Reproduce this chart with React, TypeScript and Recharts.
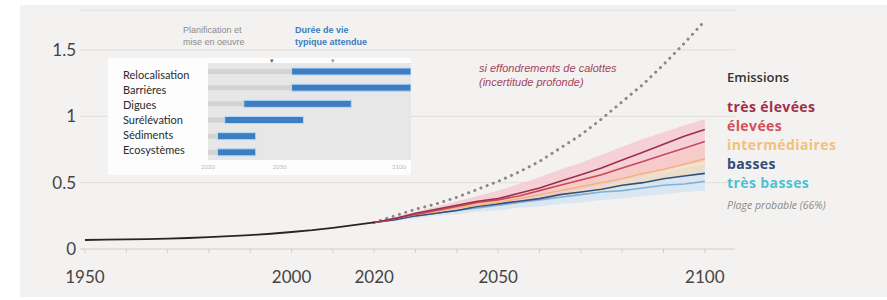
import React from 'react';
import {
  ComposedChart, BarChart, Bar, Line, Area, XAxis, YAxis, CartesianGrid,
} from 'recharts';

// observed sea level (m), 1950-2020
const histYears = [1950, 1955, 1960, 1965, 1970, 1975, 1980, 1985, 1990, 1995, 2000, 2005, 2010, 2015, 2020];
const histLevel = [0.068, 0.07, 0.072, 0.074, 0.078, 0.083, 0.09, 0.097, 0.105, 0.115, 0.128, 0.142, 0.16, 0.18, 0.2];

// projections 2020-2100
const projYears = [2020, 2025, 2030, 2035, 2040, 2045, 2050, 2055, 2060, 2065, 2070, 2075, 2080, 2085, 2090, 2095, 2100];
const collapse = [0.2, 0.25, 0.3, 0.34, 0.39, 0.45, 0.51, 0.58, 0.66, 0.76, 0.86, 0.98, 1.11, 1.24, 1.39, 1.55, 1.72];
const veryHigh = [0.2, 0.23, 0.27, 0.3, 0.33, 0.36, 0.38, 0.42, 0.46, 0.51, 0.56, 0.61, 0.67, 0.73, 0.79, 0.85, 0.9];
const high = [0.2, 0.23, 0.26, 0.29, 0.32, 0.35, 0.37, 0.4, 0.44, 0.48, 0.52, 0.56, 0.61, 0.66, 0.71, 0.76, 0.81];
const intermediate = [0.2, 0.23, 0.26, 0.28, 0.31, 0.33, 0.35, 0.38, 0.41, 0.44, 0.47, 0.5, 0.53, 0.57, 0.6, 0.64, 0.68];
const low = [0.2, 0.22, 0.25, 0.27, 0.29, 0.32, 0.34, 0.36, 0.38, 0.41, 0.43, 0.45, 0.48, 0.5, 0.53, 0.55, 0.57];
const veryLow = [0.2, 0.22, 0.25, 0.27, 0.29, 0.31, 0.33, 0.35, 0.37, 0.39, 0.41, 0.43, 0.44, 0.46, 0.48, 0.49, 0.51];

// likely ranges (66%)
const highBandLo = [0.2, 0.22, 0.25, 0.27, 0.29, 0.31, 0.33, 0.35, 0.38, 0.41, 0.45, 0.48, 0.52, 0.55, 0.59, 0.63, 0.66];
const highBandHi = [0.2, 0.24, 0.28, 0.32, 0.36, 0.4, 0.44, 0.49, 0.54, 0.6, 0.65, 0.71, 0.77, 0.83, 0.88, 0.93, 0.98];
const midBandLo = [0.2, 0.22, 0.24, 0.26, 0.28, 0.3, 0.32, 0.34, 0.36, 0.39, 0.41, 0.44, 0.46, 0.49, 0.52, 0.55, 0.58];
const midBandHi = [0.2, 0.23, 0.27, 0.3, 0.33, 0.36, 0.39, 0.42, 0.46, 0.5, 0.54, 0.58, 0.62, 0.66, 0.7, 0.74, 0.78];
const lowBandLo = [0.2, 0.21, 0.23, 0.25, 0.26, 0.28, 0.29, 0.31, 0.32, 0.34, 0.35, 0.37, 0.38, 0.4, 0.41, 0.43, 0.44];
const lowBandHi = [0.2, 0.23, 0.26, 0.29, 0.31, 0.34, 0.36, 0.39, 0.41, 0.44, 0.46, 0.49, 0.52, 0.55, 0.58, 0.61, 0.64];

const xTicks = [1950, 1960, 1970, 1980, 1990, 2000, 2010, 2020, 2030, 2040, 2050, 2060, 2070, 2080, 2090, 2100];
const xLabels = [1950, 2000, 2020, 2050, 2100];
const yTicks = [0, 0.5, 1, 1.5];

// inset: adaptation measures
const measures = ['Relocalisation', 'Barrières', 'Digues', 'Surélévation', 'Sédiments', 'Ecosystèmes'];
const planStart = [2020, 2020, 2020, 2020, 2020, 2020];
const lifeStart = [2055, 2055, 2035, 2027, 2024, 2024];
const lifeEnd = [2105, 2105, 2080, 2060, 2040, 2040];
const insetTicks = [2020, 2050, 2100];

const legend = [
  { label: 'très élevées', color: '#9f2f4b', top: 96.5 },
  { label: 'élevées', color: '#d4505c', top: 115.5 },
  { label: 'intermédiaires', color: '#f2c07c', top: 134.5 },
  { label: 'basses', color: '#2f4c7a', top: 153.5 },
  { label: 'très basses', color: '#4cc2d2', top: 172.5 },
];

const byYear = new Map<number, any>();
histYears.forEach((y, i) => byYear.set(y, { year: y, hist: histLevel[i] }));
projYears.forEach((y, i) => {
  const row = byYear.get(y) ?? { year: y };
  Object.assign(row, {
    collapse: collapse[i],
    vh: veryHigh[i],
    h: high[i],
    m: intermediate[i],
    l: low[i],
    vl: veryLow[i],
    bandHigh: [highBandLo[i], highBandHi[i]],
    bandMid: [midBandLo[i], midBandHi[i]],
    bandLow: [lowBandLo[i], lowBandHi[i]],
  });
  byYear.set(y, row);
});
const data = [...byYear.values()].sort((a, b) => a.year - b.year);

const insetData = measures.map((name, i) => ({
  name,
  plan: [planStart[i], lifeStart[i]],
  life: [lifeStart[i], lifeEnd[i]],
}));

const abs = (left: number, top: number): React.CSSProperties => ({
  position: 'absolute', left, top, whiteSpace: 'nowrap',
});

function MeasureTick({ y, payload }: any) {
  return (
    <text x={15} y={y} dy={4} textAnchor="start" fontSize={11} fill="#2b2b2b"
      fontFamily="Lato, sans-serif">
      {payload.value}
    </text>
  );
}

export default function App() {
  return (
    <div style={{ position: 'absolute', left: 0, top: 0, width: 887, height: 300, background: '#fff', overflow: 'hidden' }}>
      <div style={{ position: 'absolute', left: 20, top: 5, width: 867, height: 292, background: '#f4f2f0' }} />
      <div style={{ position: 'absolute', left: 0, top: 0 }}>
        <ComposedChart width={887} height={300} data={data}
          margin={{ top: 10.2, right: 152, bottom: 21, left: 20 }}>
          <CartesianGrid vertical={false} stroke="#dfdddb" />
          <XAxis
            type="number"
            dataKey="year"
            domain={[1948.8, 2107.3]}
            ticks={xTicks}
            tickFormatter={(v: number) => (xLabels.includes(v) ? String(v) : '')}
            height={30}
            tickSize={4}
            tickMargin={18}
            axisLine={{ stroke: '#dcdad8' }}
            tickLine={{ stroke: '#d0cecc' }}
            tick={{ fontSize: 17, fill: '#444', fontFamily: 'Lato, sans-serif' }}
          />
          <YAxis
            domain={[0, 1.8]}
            ticks={yTicks}
            width={60}
            axisLine={false}
            tickLine={false}
            tickSize={0}
            tickMargin={4}
            tick={{ fontSize: 17, fill: '#444', fontFamily: 'Lato, sans-serif' }}
          />
          <Area dataKey="bandLow" stroke="none" fill="#cfe3f3" fillOpacity={0.7} isAnimationActive={false} />
          <Area dataKey="bandMid" stroke="none" fill="#f7d8b4" fillOpacity={0.6} isAnimationActive={false} />
          <Area dataKey="bandHigh" stroke="none" fill="#f6bfca" fillOpacity={0.65} isAnimationActive={false} />
          <Line dataKey="collapse" stroke="#8e8789" strokeWidth={3} strokeDasharray="0.1 6.5"
            strokeLinecap="round" dot={false} isAnimationActive={false} />
          <Line dataKey="vl" stroke="#7ab4dc" strokeWidth={1.6} dot={false} isAnimationActive={false} />
          <Line dataKey="l" stroke="#34507e" strokeWidth={1.6} dot={false} isAnimationActive={false} />
          <Line dataKey="m" stroke="#eeb474" strokeWidth={1.4} dot={false} isAnimationActive={false} />
          <Line dataKey="h" stroke="#c9485a" strokeWidth={1.6} dot={false} isAnimationActive={false} />
          <Line dataKey="vh" stroke="#9a2f4c" strokeWidth={1.6} dot={false} isAnimationActive={false} />
          <Line dataKey="hist" stroke="#262626" strokeWidth={1.8} dot={false} isAnimationActive={false} />
        </ComposedChart>
      </div>

      {/* annotation */}
      <div style={{ ...abs(479, 61), fontFamily: '"Liberation Sans", Arial, sans-serif', fontStyle: 'italic', fontSize: 11, lineHeight: '14px', color: '#a2445e' }}>
        si effondrements de calottes<br />(incertitude profonde)
      </div>

      {/* legend */}
      <div style={{ ...abs(727, 68), fontFamily: '"Open Sans", sans-serif', fontWeight: 600, fontSize: 13, lineHeight: '18px', color: '#333' }}>
        Emissions
      </div>
      {legend.map((d) => (
        <div key={d.label} style={{ ...abs(727, d.top), fontFamily: '"Open Sans", sans-serif', fontWeight: 700, fontSize: 14, letterSpacing: 0.4, lineHeight: '19px', color: d.color }}>
          {d.label}
        </div>
      ))}
      <div style={{ ...abs(727, 197), fontFamily: '"Open Sans", sans-serif', fontStyle: 'italic', fontSize: 10.5, lineHeight: '16px', color: '#8a8a8a' }}>
        Plage probable (66%)
      </div>

      {/* inset header */}
      <div style={{ ...abs(183, 24), fontFamily: '"Liberation Sans", Arial, sans-serif', fontSize: 9, lineHeight: '12px', color: '#8a8a8a' }}>
        Planification et<br />mise en oeuvre
      </div>
      <div style={{ ...abs(295, 24), fontFamily: '"Liberation Sans", Arial, sans-serif', fontSize: 9, fontWeight: 700, lineHeight: '12px', color: '#3b7dc0' }}>
        Durée de vie<br />typique attendue
      </div>

      {/* inset chart */}
      <div style={{ position: 'absolute', left: 108, top: 58, width: 303, height: 117, background: '#fdfdfd' }}>
        <BarChart width={303} height={117} layout="vertical" data={insetData}
          margin={{ top: 5, right: 0, bottom: 0, left: 0 }}>
          <CartesianGrid yAxisId="life" horizontal={false} vertical={false} fill="#e7e7e7" stroke="none" />
          <XAxis
            type="number"
            domain={[2020, 2105]}
            ticks={insetTicks}
            height={15}
            axisLine={false}
            tickLine={false}
            tickSize={0}
            tickMargin={5}
            tick={{ fontSize: 6, fill: '#bbb', fontFamily: 'Lato, sans-serif' }}
          />
          <YAxis yAxisId="label" type="category" dataKey="name" width={100} interval={0}
            axisLine={false} tickLine={false} padding={{ top: 4.7, bottom: 2.9 }}
            tick={<MeasureTick />} />
          <YAxis yAxisId="plan" type="category" dataKey="name" hide />
          <YAxis yAxisId="life" type="category" dataKey="name" hide />
          <Bar yAxisId="plan" dataKey="plan" barSize={5} fill="#d3d3d3" isAnimationActive={false} />
          <Bar yAxisId="life" dataKey="life" barSize={7} fill="#3d7ec2" stroke="#b3dbf7"
            strokeWidth={1} isAnimationActive={false} />
        </BarChart>
      </div>
      <div style={{ ...abs(270, 57), fontSize: 7, color: '#666', fontFamily: 'sans-serif' }}>▾</div>
      <div style={{ ...abs(331, 57), fontSize: 7, color: '#999', fontFamily: 'sans-serif' }}>▾</div>
    </div>
  );
}
